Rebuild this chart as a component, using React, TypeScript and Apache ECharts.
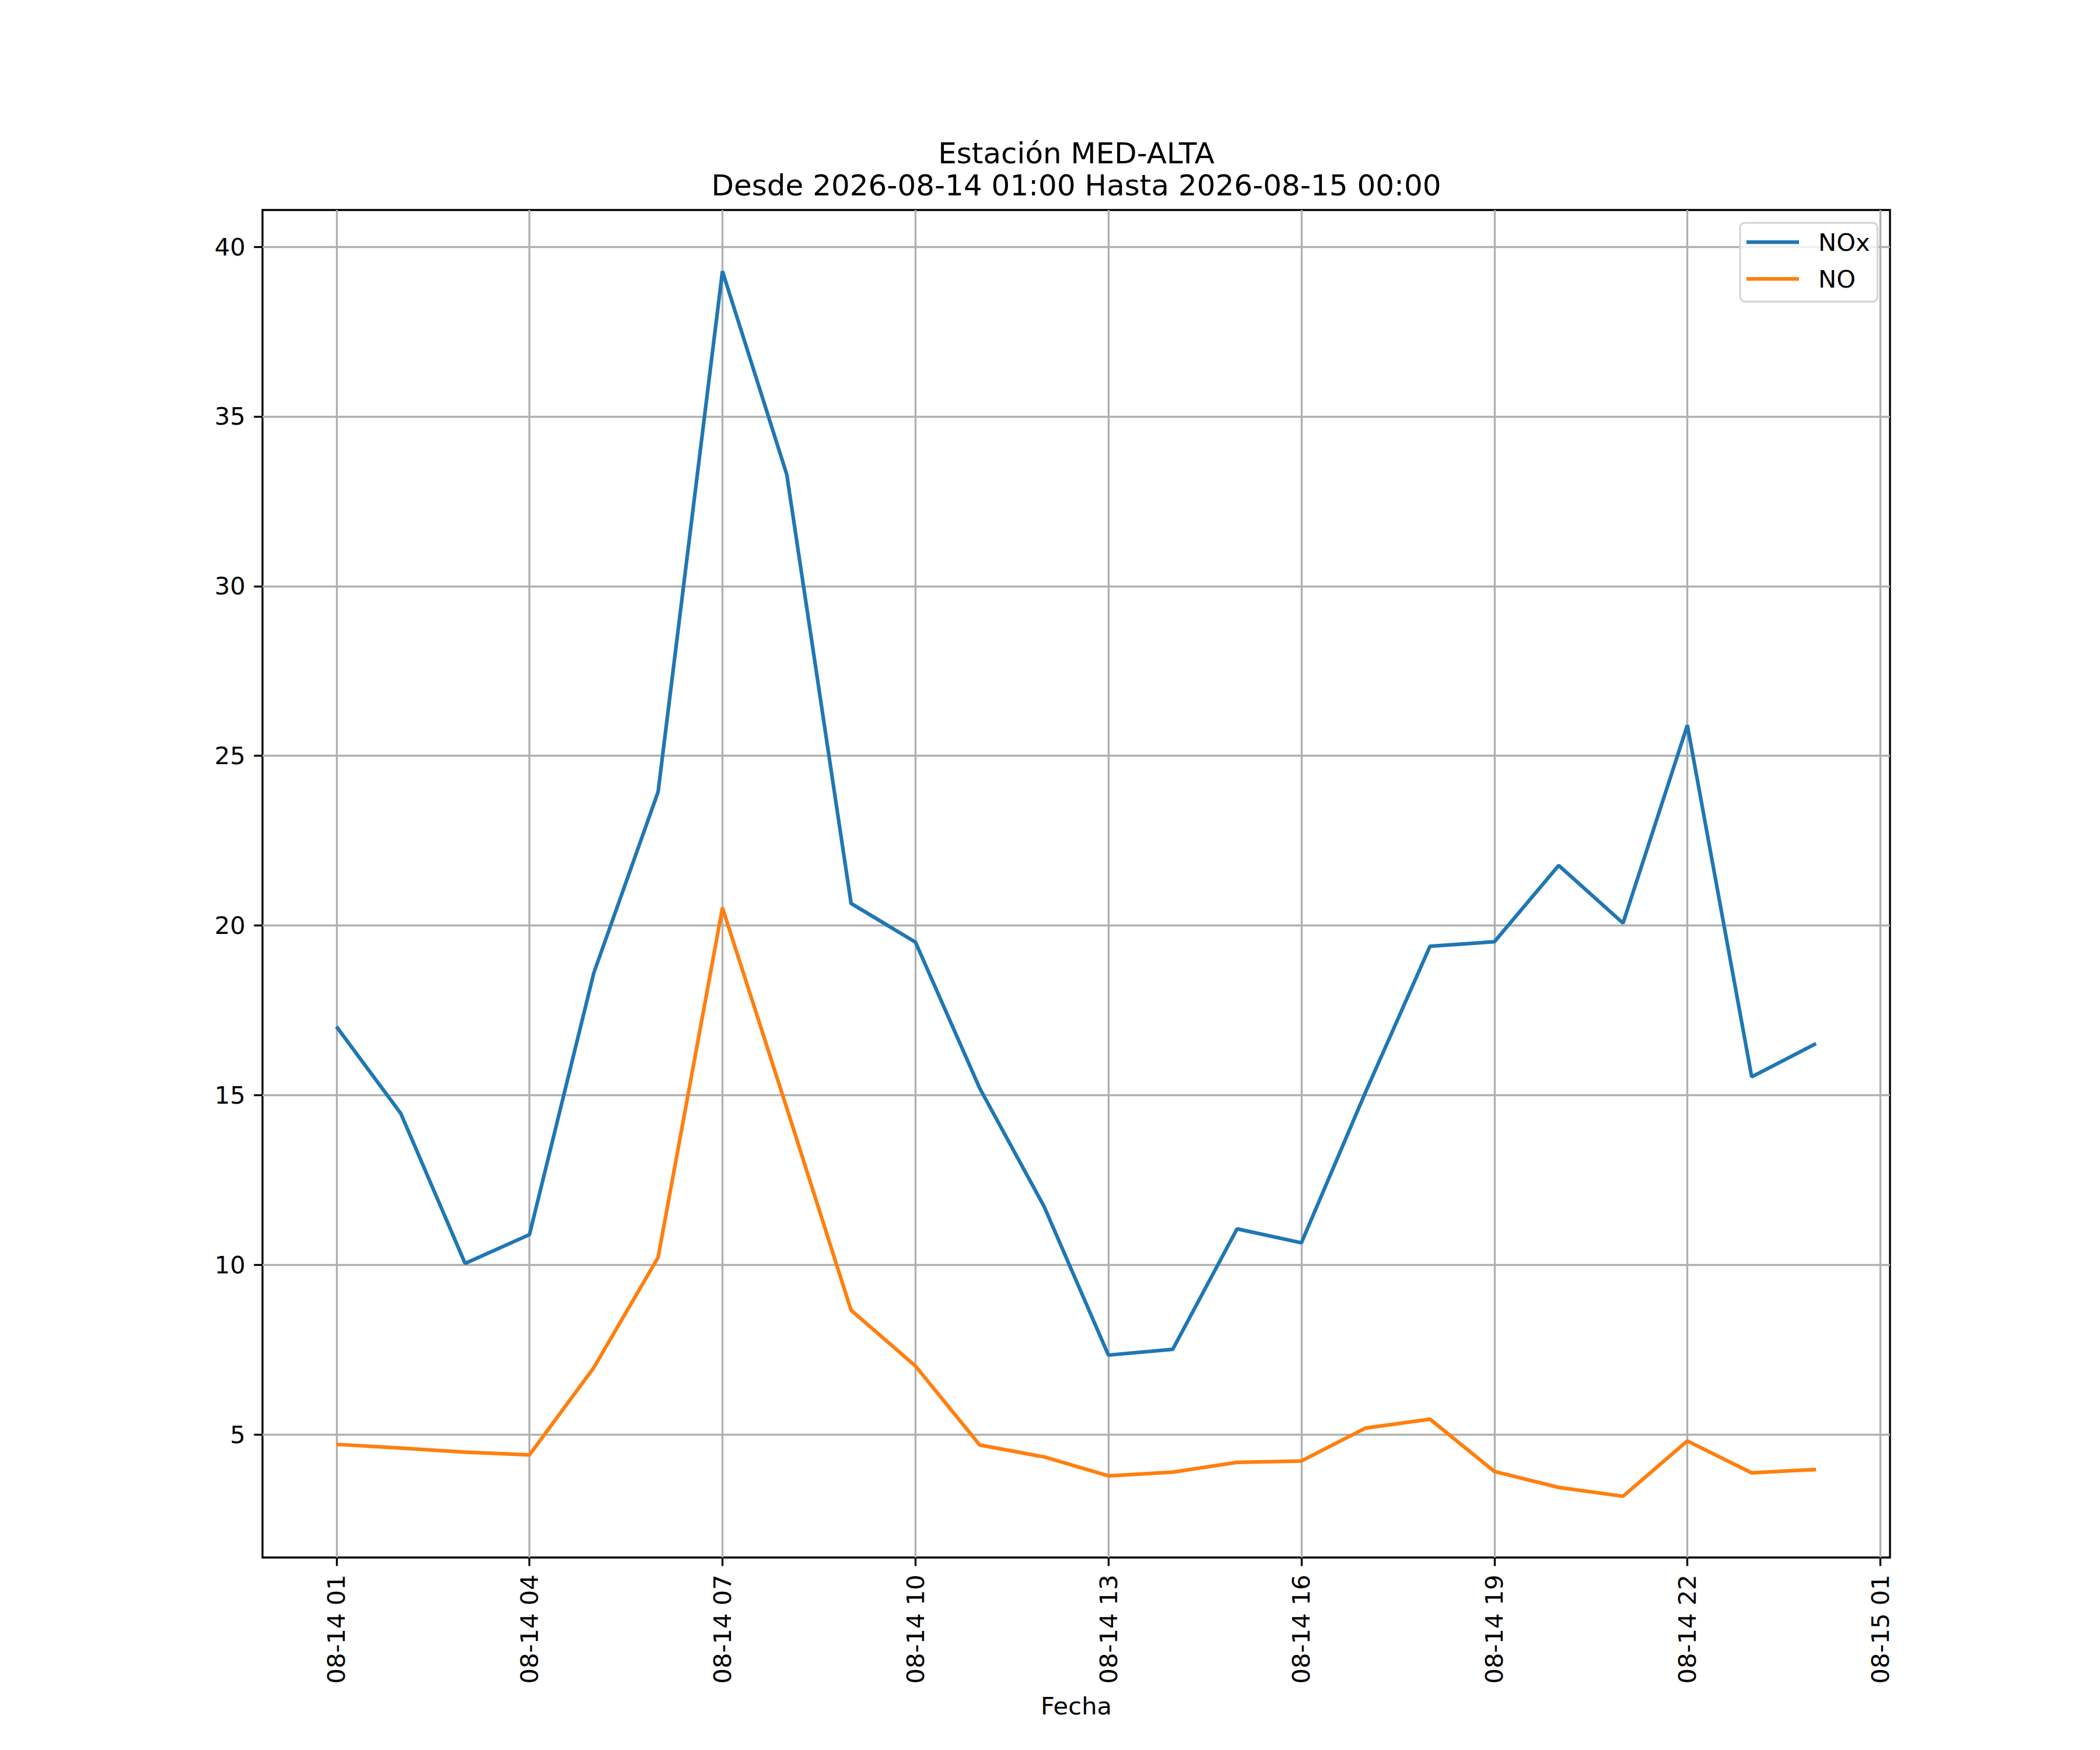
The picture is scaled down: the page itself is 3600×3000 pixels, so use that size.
import React, { useEffect, useRef } from "react";
import * as echarts from "echarts";

const TITLE_LINE_1 = "Estación MED-ALTA";
const TITLE_LINE_2 = "Desde 2026-08-14 01:00 Hasta 2026-08-15 00:00";
const X_AXIS_NAME = "Fecha";
const SERIES_NAMES = ["NOx", "NO"];
const SERIES_COLORS = ["#1f77b4", "#ff7f0e"];

const times = [
  "2026-08-14 01:00", "2026-08-14 02:00", "2026-08-14 03:00", "2026-08-14 04:00",
  "2026-08-14 05:00", "2026-08-14 06:00", "2026-08-14 07:00", "2026-08-14 08:00",
  "2026-08-14 09:00", "2026-08-14 10:00", "2026-08-14 11:00", "2026-08-14 12:00",
  "2026-08-14 13:00", "2026-08-14 14:00", "2026-08-14 15:00", "2026-08-14 16:00",
  "2026-08-14 17:00", "2026-08-14 18:00", "2026-08-14 19:00", "2026-08-14 20:00",
  "2026-08-14 21:00", "2026-08-14 22:00", "2026-08-14 23:00", "2026-08-15 00:00",
];

const noxValues = [
  17.02, 14.46, 10.04, 10.89, 18.6, 23.94, 39.28, 33.29,
  20.65, 19.51, 15.2, 11.72, 7.34, 7.51, 11.06, 10.65,
  15.1, 19.39, 19.52, 21.77, 20.07, 25.9, 15.54, 16.52,
];

const noValues = [
  4.71, 4.6, 4.48, 4.4, 6.97, 10.22, 20.52, 14.62,
  8.66, 7.02, 4.69, 4.34, 3.78, 3.89, 4.18, 4.22,
  5.19, 5.45, 3.91, 3.44, 3.18, 4.81, 3.87, 3.97,
];

const xTickLabels = [
  "2026-08-14 01:00", "2026-08-14 04:00", "2026-08-14 07:00", "2026-08-14 10:00",
  "2026-08-14 13:00", "2026-08-14 16:00", "2026-08-14 19:00", "2026-08-14 22:00",
  "2026-08-15 01:00",
];

const yTickValues = [5, 10, 15, 20, 25, 30, 35, 40];

const FONT = "DejaVu Sans";
const PT = 300 / 72;

function parseTime(s: string): number {
  const [d, t] = s.split(" ");
  const [y, m, dd] = d.split("-").map(Number);
  const [hh, mm] = t.split(":").map(Number);
  return Date.UTC(y, m - 1, dd, hh, mm);
}

function pad(n: number): string {
  return n < 10 ? "0" + n : String(n);
}

function formatTick(v: number): string {
  const d = new Date(v);
  return `${pad(d.getUTCMonth() + 1)}-${pad(d.getUTCDate())} ${pad(d.getUTCHours())}`;
}

export default function App() {
  const ref = useRef<HTMLDivElement>(null);

  useEffect(() => {
    document.body.style.margin = "0";
    if (!ref.current) return;
    const chart = echarts.init(ref.current, null, { renderer: "svg" });

    const ts = times.map(parseTime);
    const tMin = Math.min(...ts);
    const tMax = Math.max(...ts);
    const tPad = (tMax - tMin) * 0.05;
    const allVals = [...noxValues, ...noValues];
    const vMin = Math.min(...allVals);
    const vMax = Math.max(...allVals);
    const vPad = (vMax - vMin) * 0.05;

    const xTicks = xTickLabels.map(parseTime);

    const seriesData = [noxValues, noValues];

    chart.setOption({
      animation: false,
      backgroundColor: "#ffffff",
      title: {
        text: TITLE_LINE_1 + "\n" + TITLE_LINE_2,
        left: 1845,
        top: 235,
        textAlign: "center",
        padding: 0,
        textStyle: {
          fontFamily: FONT,
          fontSize: 12 * PT,
          fontWeight: "normal",
          color: "#000",
          lineHeight: 55,
        },
      },
      legend: {
        data: SERIES_NAMES,
        orient: "vertical",
        left: 2983,
        top: 382,
        padding: [8, 13, 14, 11],
        itemGap: 13,
        itemWidth: 90,
        itemHeight: 6.25,
        icon: "rect",
        backgroundColor: "rgba(255,255,255,0.8)",
        borderColor: "#d6d6d6",
        borderWidth: 3.3,
        borderRadius: 8,
        textStyle: {
          fontFamily: FONT,
          fontSize: 10 * PT,
          color: "#000",
          lineHeight: 50,
          padding: [0, 0, 0, 28],
        },
      },
      grid: {
        left: 450,
        right: 360,
        top: 360,
        bottom: 330,
        containLabel: false,
        show: true,
        borderColor: "#000",
        borderWidth: 0.8 * PT,
        backgroundColor: "transparent",
      },
      xAxis: {
        type: "value",
        min: tMin - tPad,
        max: tMax + tPad,
        name: X_AXIS_NAME,
        nameLocation: "middle",
        nameGap: 233,
        nameTextStyle: { fontFamily: FONT, fontSize: 10 * PT, color: "#000" },
        axisLine: { show: false },
        axisTick: {
          show: true,
          inside: false,
          length: 3.5 * PT,
          customValues: xTicks,
          lineStyle: { color: "#000", width: 0.8 * PT },
        },
        axisLabel: {
          show: true,
          rotate: 90,
          margin: 7 * PT,
          customValues: xTicks,
          formatter: (v: number) => formatTick(v),
          fontFamily: FONT,
          fontSize: 10 * PT,
          color: "#000",
        },
        splitLine: {
          show: true,
          lineStyle: { color: "#b0b0b0", width: 0.8 * PT },
        },
      },
      yAxis: {
        type: "value",
        min: vMin - vPad,
        max: vMax + vPad,
        axisLine: { show: false },
        axisTick: {
          show: true,
          inside: false,
          length: 3.5 * PT,
          customValues: yTickValues,
          lineStyle: { color: "#000", width: 0.8 * PT },
        },
        axisLabel: {
          show: true,
          margin: 7 * PT,
          customValues: yTickValues,
          formatter: (v: number) => String(v),
          fontFamily: FONT,
          fontSize: 10 * PT,
          color: "#000",
        },
        splitLine: {
          show: true,
          lineStyle: { color: "#b0b0b0", width: 0.8 * PT },
        },
      },
      series: SERIES_NAMES.map((name, i) => ({
        name,
        type: "line",
        showSymbol: false,
        symbol: "none",
        color: SERIES_COLORS[i],
        lineStyle: { color: SERIES_COLORS[i], width: 1.5 * PT },
        itemStyle: { color: SERIES_COLORS[i] },
        data: ts.map((t, j) => [t, seriesData[i][j]]),
        z: 3,
      })),
    });

    return () => {
      chart.dispose();
    };
  }, []);

  return <div ref={ref} style={{ width: 3600, height: 3000 }} />;
}
